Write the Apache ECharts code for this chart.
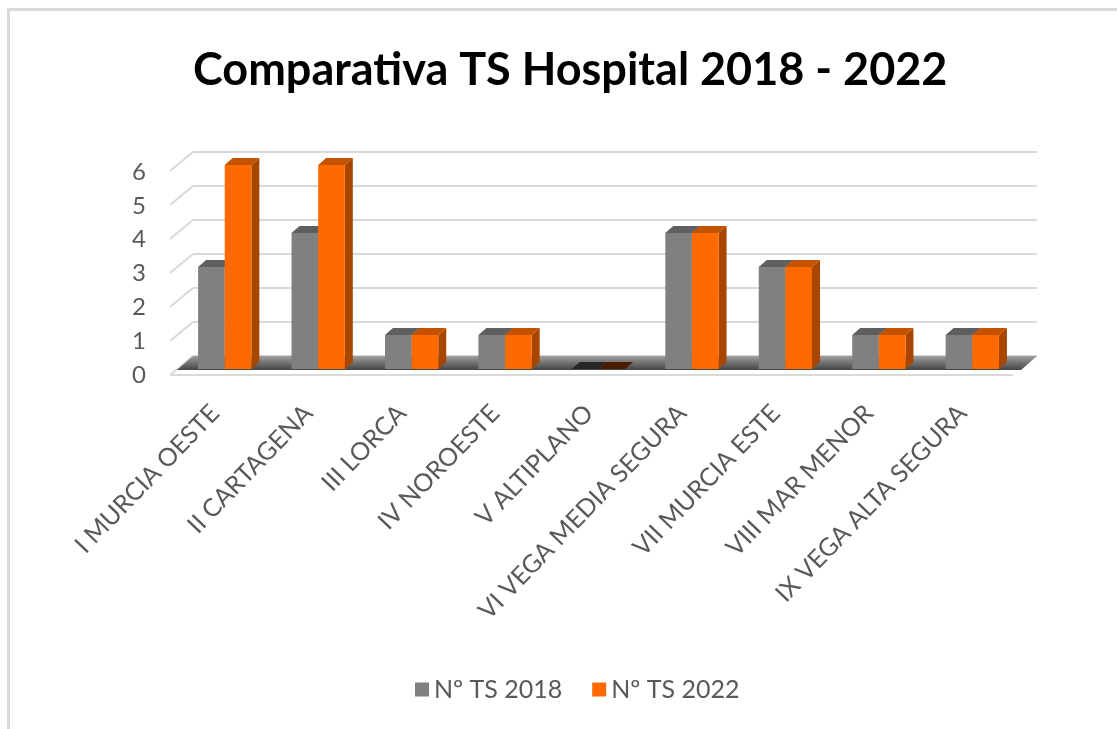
<!DOCTYPE html>
<html>
<head>
<meta charset="utf-8">
<script src="https://cdn.jsdelivr.net/npm/echarts@6/dist/echarts.min.js"></script>
<style>
html,body{margin:0;padding:0;background:#fff;}
#c{width:1117px;height:729px;}
</style>
</head>
<body>
<div id="c"></div>
<script>
var categories = ['I MURCIA OESTE','II CARTAGENA','III LORCA','IV NOROESTE','V ALTIPLANO','VI VEGA MEDIA SEGURA','VII MURCIA ESTE','VIII MAR MENOR','IX VEGA ALTA SEGURA'];
var ts2018 = [3,4,1,1,0,4,3,1,1];
var ts2022 = [6,6,1,1,0,4,3,1,1];
var yTicks = [0,1,2,3,4,5,6];
var seriesNames = ['Nº TS 2018','Nº TS 2022'];

var FONT = 'Lato, "Open Sans", sans-serif';
var DX = 8, DY = 7;
var styles = [
  {front:'#808080', top:'#5f5f5f', side:'#5a5a5a', topZero:'#262626'},
  {front:'#ff6a00', top:'#c45200', side:'#a84600', topZero:'#4a1d00'}
];

function barRender(si){
  return function(params, api){
    var idx = api.value(0), val = api.value(1);
    var c = api.coord([idx, val]);
    var b = api.coord([idx, 0]);
    var cw = api.size([1,0])[0];
    var bw = cw*0.285;
    var x0 = si === 0 ? c[0]-bw : c[0];
    var y1 = c[1], y0 = b[1];
    var st = styles[si];
    var ch = [];
    ch.push({type:'polygon', shape:{points:[[x0+bw,y1],[x0+bw+DX,y1-DY],[x0+bw+DX,y0-DY],[x0+bw,y0]]}, style:{fill:st.side}});
    if (y0-y1 > 0) ch.push({type:'rect', shape:{x:x0,y:y1,width:bw,height:y0-y1}, style:{fill:st.front}});
    ch.push({type:'polygon', shape:{points:[[x0,y1],[x0+DX,y1-DY],[x0+bw+DX,y1-DY],[x0+bw,y1]]}, style:{fill: val===0 ? st.topZero : st.top}});
    return {type:'group', children:ch};
  };
}

function wallRender(params, api){
  var v = api.value(1);
  var p = api.coord([0, v]);
  var cs = params.coordSys;
  var yb = p[1]-13;
  var xl = cs.x+15, xr = cs.x+cs.width+18;
  var ls = {stroke:'#d9d9d9', lineWidth:2};
  return {type:'group', children:[
    {type:'line', shape:{x1:xl,y1:yb,x2:xr,y2:yb}, style:ls},
    {type:'line', shape:{x1:cs.x-8,y1:p[1]+6,x2:xl,y2:yb}, style:ls}
  ]};
}

function floorRender(params, api){
  var p = api.coord([0, 0]);
  var cs = params.coordSys;
  var yb = p[1]-13, yf = p[1]+1;
  var xl = cs.x+15, xr = cs.x+cs.width+18;
  return {type:'group', children:[
    {type:'line', shape:{x1:cs.x-8,y1:p[1]+6,x2:cs.x+cs.width-6,y2:p[1]+6}, style:{stroke:'#d9d9d9', lineWidth:2}},
    {type:'polygon', shape:{points:[[xl,yb],[xr,yb],[xr-16,yf],[xl-16,yf]]},
      style:{fill:new echarts.graphic.LinearGradient(0,0,0,1,[{offset:0,color:'#a0a0a0'},{offset:0.5,color:'#707070'},{offset:1,color:'#454545'}])}}
  ]};
}

var chart = echarts.init(document.getElementById('c'));
chart.setOption({
  backgroundColor:'#ffffff',
  animation:false,
  title:{text:'Comparativa TS Hospital 2018 - 2022', left:188, top:43,
    textStyle:{fontFamily:FONT, fontWeight:'bold', fontSize:45, color:'#000000'}},
  legend:{data:seriesNames, left:410, top:672, icon:'rect', itemWidth:14, itemHeight:14, itemGap:30,
    textStyle:{fontFamily:FONT, fontSize:25, color:'#595959'}},
  graphic:[{type:'rect', shape:{x:8.5,y:9.5,width:1300,height:900}, style:{fill:'none', stroke:'#d9d9d9', lineWidth:3}, silent:true}],
  grid:[
    {left:178, right:98, top:165, bottom:360},
    {left:170, right:98, top:172, bottom:354}
  ],
  xAxis:[
    {type:'category', gridIndex:0, data:categories, axisLine:{show:false}, axisTick:{show:false}, splitLine:{show:false},
      axisLabel:{interval:0, rotate:46, margin:30, padding:[0,14,0,0], fontFamily:FONT, fontSize:25, color:'#595959'}},
    {type:'category', gridIndex:1, data:categories, show:false}
  ],
  yAxis:[
    {type:'value', gridIndex:0, min:0, max:6, interval:1, show:false},
    {type:'value', gridIndex:1, min:0, max:6, interval:1, axisLine:{show:false}, axisTick:{show:false}, splitLine:{show:false},
      axisLabel:{margin:24, fontFamily:FONT, fontSize:24, color:'#595959'}}
  ],
  series:[
    {type:'custom', xAxisIndex:0, yAxisIndex:0, silent:true, renderItem:wallRender, data:yTicks.map(function(v){return [0,v];})},
    {type:'custom', xAxisIndex:0, yAxisIndex:0, silent:true, renderItem:floorRender, data:[[0,0]]},
    {type:'custom', name:seriesNames[0], xAxisIndex:0, yAxisIndex:0, renderItem:barRender(0), itemStyle:{color:styles[0].front},
      data:ts2018.map(function(v,i){return [i,v];})},
    {type:'custom', name:seriesNames[1], xAxisIndex:0, yAxisIndex:0, renderItem:barRender(1), itemStyle:{color:styles[1].front},
      data:ts2022.map(function(v,i){return [i,v];})}
  ]
});
</script>
</body>
</html>
